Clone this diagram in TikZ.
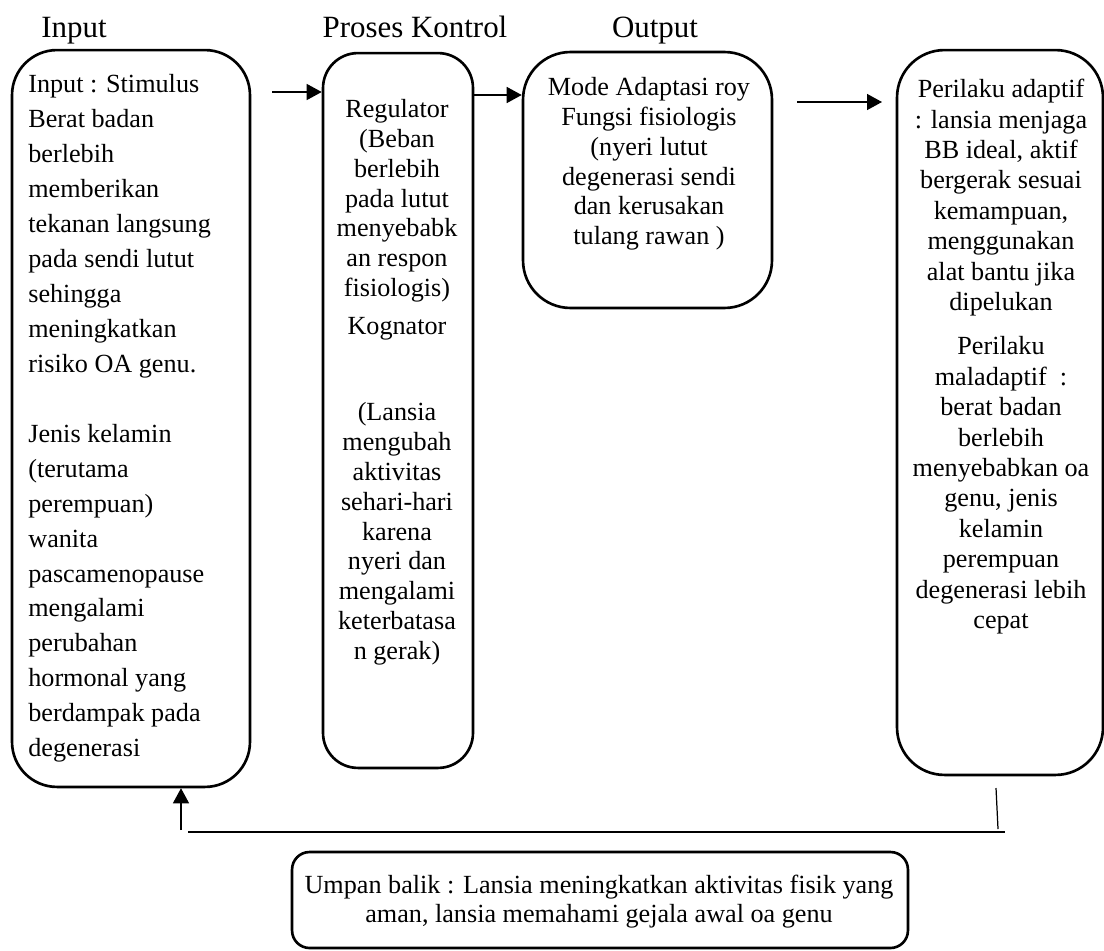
\documentclass[tikz,border=0pt]{standalone}
\usepackage{fontspec}
\setmainfont{Liberation Serif}
\usetikzlibrary{arrows.meta}

\begin{document}
\begin{tikzpicture}[x=0.02cm,y=-0.02cm,>={Triangle[length=0.3cm,width=0.32cm]},
        box/.style={draw,line width=1.5pt,rounded corners=#1,inner sep=0pt},
        box/.default=0.9cm,
        txt/.style={inner sep=0pt,align=center,anchor=north,font=\fontsize{14.9}{17}\selectfont},
        head/.style={inner sep=0pt,anchor=base,font=\fontsize{17.6}{20}\selectfont},
        arr/.style={->,line width=0.8pt},
        fb/.style={line width=0.7pt}]
        \useasboundingbox (0,0) rectangle (1104,950);

        % headings
        \node[head] (hin)   at (74,37)  {Input};
        \node[head] (hctrl) at (415,37) {Proses Kontrol};
        \node[head] (hout)  at (655,37) {Output};

        % boxes
        \node[box=0.9cm,minimum width=4.76cm,minimum height=14.74cm] (inbox) at (131,418.5) {};
        \node[box=0.7cm,minimum width=3cm,minimum height=14.3cm] (ctrlbox) at (398,410.5) {};
        \node[box=0.95cm,minimum width=4.98cm,minimum height=5.12cm] (outbox) at (647.5,180) {};
        \node[box=0.95cm,minimum width=4.12cm,minimum height=14.5cm] (behbox) at (1000,412.5) {};
        \node[box=0.35cm,minimum width=12.32cm,minimum height=1.92cm] (fbbox) at (600,900) {};

        % texts
        \node[txt,align=left,anchor=north west,font=\fontsize{14.9}{19.9}\selectfont] (intext) at (28,74) {%
            Input : Stimulus\\Berat badan\\berlebih\\memberikan\\tekanan langsung\\pada sendi lutut\\%
            sehingga\\meningkatkan\\risiko OA genu.\\[19.9pt]Jenis kelamin\\(terutama\\perempuan)\\wanita\\%
            pascamenopause\\mengalami\\perubahan\\hormonal yang\\berdampak pada\\degenerasi};
        \node[txt] (ctrltext) at (397,99) {%
            Regulator\\(Beban\\berlebih\\pada lutut\\menyebabk\\an respon\\fisiologis)\\[4.5pt]%
            Kognator\\[32pt](Lansia\\mengubah\\aktivitas\\sehari-hari\\karena\\nyeri dan\\mengalami\\%
            keterbatasa\\n gerak)};
        \node[txt] (outtext) at (649,77) {%
            Mode Adaptasi roy\\Fungsi fisiologis\\(nyeri lutut\\degenerasi sendi\\dan kerusakan\\tulang rawan )};
        \node[txt,font=\fontsize{14.9}{17.3}\selectfont] (behtext) at (1001,79) {%
            Perilaku adaptif\\: lansia menjaga\\BB ideal, aktif\\bergerak sesuai\\kemampuan,\\menggunakan\\%
            alat bantu jika\\dipelukan\\[7.9pt]Perilaku\\maladaptif\ \ :\\berat badan\\berlebih\\%
            menyebabkan oa\\genu, jenis\\kelamin\\perempuan\\degenerasi lebih\\cepat};
        \node[txt,font=\fontsize{14.9}{16.4}\selectfont] (fbtext) at (599,875) {%
            Umpan balik : Lansia meningkatkan aktivitas fisik yang\\aman, lansia memahami gejala awal oa genu};

        % arrows
        \coordinate (in2ctrl) at (272,92);
        \coordinate (ctrl2out) at (473,95);
        \coordinate (out2beh) at (797,102);
        \coordinate (out2behend) at (882,102);
        \draw[arr] (in2ctrl) -- (in2ctrl -| ctrlbox.west);
        \draw[arr] (ctrl2out -| ctrlbox.east) -- (ctrl2out -| outbox.west);
        \draw[arr] (out2beh) -- (out2behend);

        % feedback loop
        \coordinate (fbtop) at (996,788);
        \coordinate (fbdown) at (998,829);
        \coordinate (fbright) at (1005,832);
        \coordinate (fbleft) at (188,832);
        \coordinate (fbup) at (181,830);
        \draw[fb] (fbtop) -- (fbdown);
        \draw[fb] (fbleft) -- (fbright);
        \draw[arr,line width=0.7pt] (fbup) -- (fbup |- inbox.south);
\end{tikzpicture}
\end{document}
